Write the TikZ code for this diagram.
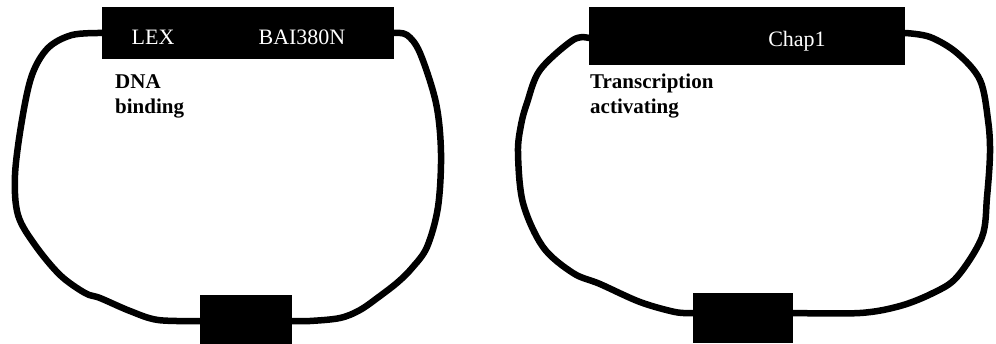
\documentclass[tikz,border=0pt]{standalone}
\usepackage{fontspec}
\setmainfont{Liberation Serif}
\begin{document}
\begin{tikzpicture}[x=1pt,y=-1pt,
  blk/.style={fill=black,draw=none,inner sep=0pt,anchor=north west},
  wire/.style={line width=6.5pt,line join=round,line cap=round},
  intext/.style={text=white,font=\fontsize{22}{24}\selectfont},
  lab/.style={font=\bfseries\fontsize{21}{25}\selectfont,align=left,anchor=north west,inner sep=0pt}]
\useasboundingbox (0,0) rectangle (996,343);
% left plasmid
\node[blk,minimum width=292pt,minimum height=52pt] (lt) at (102,7) {};
\node[blk,minimum width=92pt,minimum height=52pt] (lb) at (200,295) {};
\coordinate (ltw) at (102,33);
\coordinate (lte) at (394,33);
\coordinate (lbw) at (200,321);
\coordinate (lbe) at (292,321);
\draw[wire] plot[smooth,tension=0.55] coordinates {(ltw) (72,35) (48,48) (32,75) (22,120) (15,175) (18,215) (35,245) (60,275) (85,293) (100,298) (130,311) (158,320) (lbw)};
\draw[wire] plot[smooth,tension=0.55] coordinates {(lte) (407,35) (420,53) (436,103) (441,153) (438,207) (427,247) (412,268) (398,282) (380,296) (360,310) (340,318) (310,321) (lbe)};
\node[intext] (t1) at (153,37) {LEX};
\node[intext] (t2) at (302,37) {BAI380N};
\node[lab] (l1) at (115,74) {DNA\\binding};
% right plasmid
\node[blk,minimum width=316pt,minimum height=58pt] (rt) at (589,7) {};
\node[blk,minimum width=100pt,minimum height=50pt] (rb) at (693,293) {};
\coordinate (rtw) at (589,38);
\coordinate (rte) at (905,33);
\coordinate (rbw) at (693,313);
\coordinate (rbe) at (793,313);
\draw[wire] plot[smooth,tension=0.55] coordinates {(rtw) (573,40) (540,70) (527,103) (521,125) (518,153) (523,203) (543,247) (573,273) (600,284) (640,302) (675,312) (rbw)};
\draw[wire] plot[smooth,tension=0.55] coordinates {(rte) (930,37) (957,53) (980,80) (988,120) (990,153) (987,197) (982,237) (957,277) (933,293) (900,306) (860,313) (rbe)};
\node[intext] (t3) at (797,41) {Chap1};
\node[lab] (l2) at (590,74) {Transcription\\activating};
\end{tikzpicture}
\end{document}
